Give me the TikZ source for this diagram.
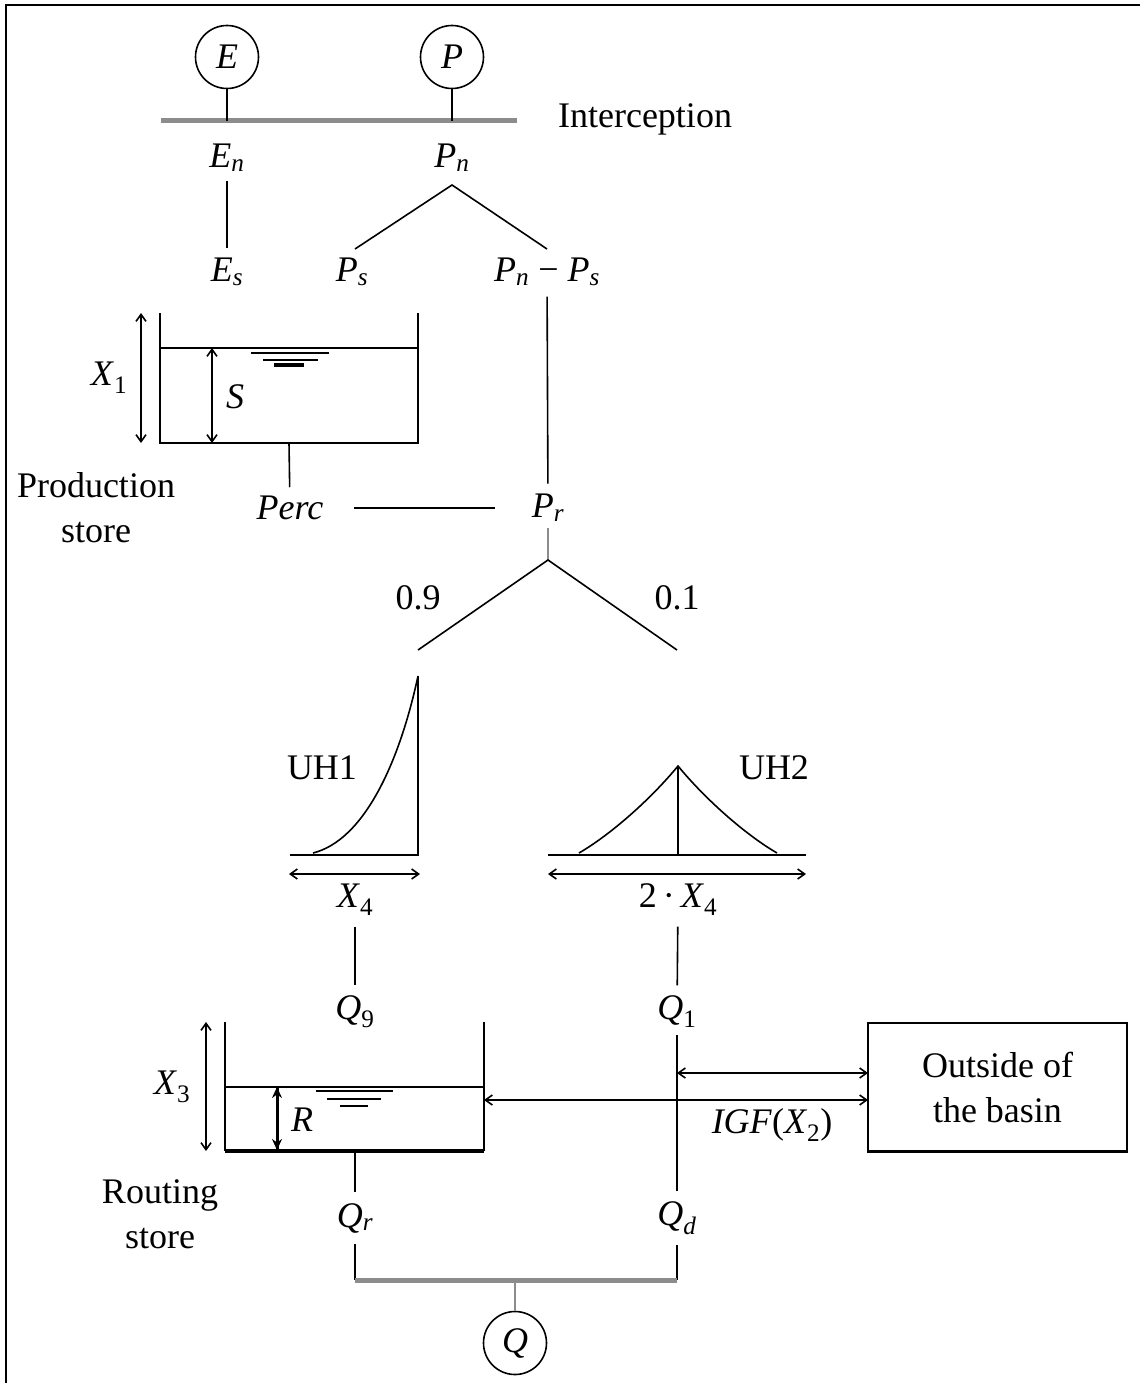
\documentclass[tikz,border=0pt]{standalone}
\usepackage{fontspec}
\setmainfont{Liberation Serif}
\usetikzlibrary{arrows.meta}
\definecolor{barc}{RGB}{140,140,140}
\newcommand{\vv}[1]{\textit{#1}}
\newcommand{\vs}[2]{\textit{#1}\textsubscript{\textit{#2}}}
\begin{document}
\begin{tikzpicture}[x=1pt,y=-1pt,line width=1.6pt,
  >={Straight Barb[length=7pt,width=10pt]},
  lbl/.style={font=\fontsize{36}{45}\selectfont,inner sep=0pt},
  circ/.style={draw,circle,minimum size=63pt,inner sep=0pt,font=\fontsize{36}{45}\selectfont},
  bar/.style={line width=5pt,draw=barc},
  graystem/.style={draw=barc,line width=1.8pt},
  water/.style={line width=1.5pt},
  gap/.style={shorten <=#1,shorten >=#1}]
\useasboundingbox (0,0) rectangle (1146,1383);
% frame
\coordinate (fbl) at (6,1383);
\coordinate (ftl) at (6,5);
\coordinate (ftr) at (1140,5);
\draw (fbl) -- (ftl) -- (ftr);

% --- interception ---
\node[circ] (E) at (227,57) {\vv{E}};
\node[circ] (P) at (452,57) {\vv{P}};
\coordinate (bl) at (161,121);
\coordinate (br) at (517,121);
\draw[bar] (bl) -- (br);
\draw (E) -- (E |- bl);
\draw (P) -- (P |- bl);
\node[lbl] (int) at (645,119) {Interception};

\node[lbl] (En) at (227,158) {\vs{E}{n}};
\node[lbl] (Pn) at (452,158) {\vs{P}{n}};
\node[lbl] (Es) at (227,272) {\vs{E}{s}};
\node[lbl] (Ps) at (352,272) {\vs{P}{s}};
\node[lbl] (PnPs) at (547,272) {\vs{P}{n} − \vs{P}{s}};
\draw[gap=9pt] (En) -- (Es);
\coordinate (pa) at (452,185);
\coordinate (pl) at (355,249);
\coordinate (pr) at (547,249);
\draw (pl) -- (pa) -- (pr);

% --- production store ---
\coordinate (ps1) at (160,313);
\coordinate (ps2) at (160,443);
\coordinate (ps3) at (418,443);
\coordinate (ps4) at (418,313);
\draw (ps1) -- (ps2) -- (ps3) -- (ps4);
\coordinate (wl1) at (160,348);
\coordinate (wl2) at (418,348);
\draw (wl1) -- (wl2);
\draw[water] (251,353) -- (329,353);
\draw[water] (263,360) -- (318,360);
\draw[line width=3.5pt] (274,365) -- (304,365);
\coordinate (x1t) at (141,313);
\coordinate (x1b) at (141,443);
\draw[<->] (x1t) -- (x1b);
\node[lbl] (X1) at (109,378) {\vv{X}\textsubscript{1}};
\coordinate (st) at (212,348);
\coordinate (sb) at (212,443);
\draw[<->] (st) -- (sb);
\node[lbl] (S) at (235,397) {\vv{S}};
\node[lbl,align=center] (prod) at (96,508) {Production\\store};

\node[lbl] (Perc) at (290,508) {\vv{Perc}};
\node[lbl] (Pr) at (548,508) {\vs{P}{r}};
\coordinate (psout) at (289,443);
\draw[shorten >=8pt] (psout) -- (Perc);
\draw[shorten <=30pt,shorten >=36pt] (Perc) -- (Pr);
\draw[gap=10pt] (PnPs) -- (Pr);

% --- split 0.9 / 0.1 ---
\coordinate (ra) at (548,560);
\coordinate (rl) at (418,650);
\coordinate (rr) at (677,650);
\draw[graystem,shorten <=6pt] (Pr) -- (ra);
\draw (rl) -- (ra) -- (rr);
\node[lbl] (n09) at (418,598) {0.9};
\node[lbl] (n01) at (677,598) {0.1};

% --- UH1 ---
\coordinate (u1a) at (290,855);
\coordinate (u1b) at (418,855);
\coordinate (u1c) at (418,676);
\draw (u1a) -- (u1b) -- (u1c);
\draw (313,853) .. controls (365,840) and (400,760) .. (u1c);
\node[lbl] (UH1) at (322,768) {UH1};
\coordinate (a1l) at (289,874);
\coordinate (a1r) at (420,874);
\draw[<->] (a1l) -- (a1r);
\node[lbl] (X4) at (355,900) {\vv{X}\textsubscript{4}};

% --- UH2 ---
\coordinate (u2a) at (548,855);
\coordinate (u2b) at (806,855);
\coordinate (u2m) at (678,855);
\coordinate (u2t) at (678,766);
\draw (u2a) -- (u2b);
\draw (u2m) -- (u2t);
\draw (579,853) .. controls (610,835) and (650,800) .. (u2t)
      .. controls (706,800) and (746,835) .. (777,853);
\node[lbl] (UH2) at (774,768) {UH2};
\coordinate (a2l) at (548,874);
\coordinate (a2r) at (806,874);
\draw[<->] (a2l) -- (a2r);
\node[lbl] (X4b) at (678,900) {2\,·\,\vv{X}\textsubscript{4}};

\node[lbl] (Q9) at (355,1012) {\vv{Q}\textsubscript{9}};
\node[lbl] (Q1) at (677,1012) {\vv{Q}\textsubscript{1}};
\draw[gap=10pt] (X4) -- (Q9);
\draw[gap=10pt] (X4b) -- (Q1);

% --- routing store ---
\coordinate (rs1) at (225,1022);
\coordinate (rs2) at (225,1151);
\coordinate (rs3) at (484,1151);
\coordinate (rs4) at (484,1022);
\draw (rs1) -- (rs2);
\draw (rs3) -- (rs4);
\draw[line width=3.5pt] (rs2) -- (rs3);
\coordinate (rw1) at (225,1087);
\coordinate (rw2) at (484,1087);
\draw (rw1) -- (rw2);
\draw[water] (316,1091) -- (393,1091);
\draw[water] (327,1099) -- (381,1099);
\draw[water] (340,1106) -- (368,1106);
\coordinate (x3t) at (206,1022);
\coordinate (x3b) at (206,1151);
\draw[<->] (x3t) -- (x3b);
\node[lbl] (X3) at (172,1087) {\vv{X}\textsubscript{3}};
\coordinate (rt) at (277,1087);
\coordinate (rb) at (277,1150);
\draw[line width=3pt,-{Stealth[length=11pt,width=10pt]}] (rb) -- (rt);
\draw[line width=3pt,-{Stealth[length=11pt,width=10pt]}] (rt) -- (rb);
\node[lbl] (R) at (302,1120) {\vv{R}};
\node[lbl,align=center] (rout) at (160,1214) {Routing\\store};

% --- outside of the basin ---
\node[draw,minimum width=259pt,minimum height=128pt,inner sep=0pt,
      font=\fontsize{36}{45}\selectfont,align=center] (out) at (997.5,1087) {Outside of\\the basin};
\draw[line width=3pt] (out.south west) -- (out.south east);
\coordinate (ia) at (677,1073);
\coordinate (ib) at (868,1073);
\draw[<->] (ia) -- (ib);
\coordinate (ic) at (484,1100);
\coordinate (id) at (868,1100);
\draw[<->] (ic) -- (id);
\node[lbl] (IGF) at (772,1125) {\vv{IGF}(\vv{X}\textsubscript{2})};

% --- outputs ---
\node[lbl] (Qr) at (355,1218) {\vs{Q}{r}};
\node[lbl] (Qd) at (677,1218) {\vs{Q}{d}};
\draw[shorten <=6pt,shorten >=10pt] (Q1) -- (Qd);
\coordinate (rsout) at (355,1151);
\draw[shorten >=10pt] (rsout) -- (Qr);
\coordinate (ql) at (355,1280);
\coordinate (qr) at (677,1280);
\draw[shorten <=10pt] (Qr) -- (ql);
\draw[shorten <=10pt] (Qd) -- (qr);
\draw[bar] (ql) -- (qr);
\node[circ] (Q) at (515,1343) {\vv{Q}};
\coordinate (qm) at (515,1280);
\draw[graystem] (qm) -- (Q);
\end{tikzpicture}
\end{document}
